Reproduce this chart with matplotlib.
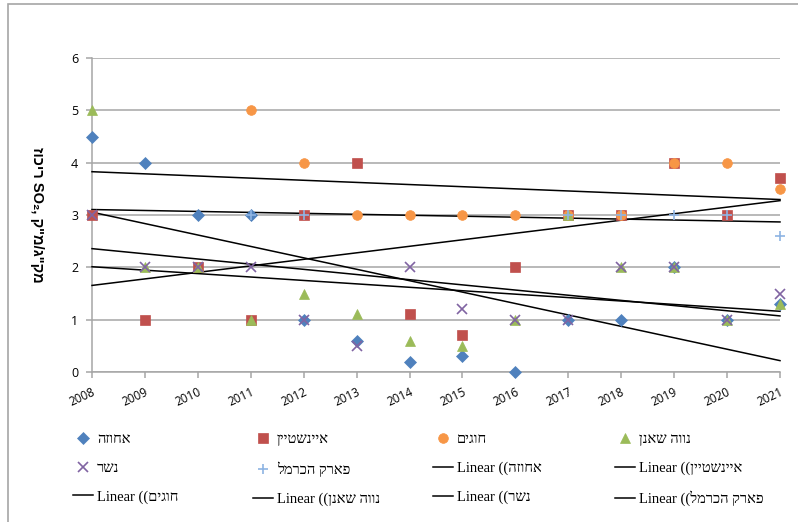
import numpy as np
import matplotlib
matplotlib.use('Agg')
from matplotlib import pyplot as plt
from matplotlib.patches import Rectangle

nan = np.nan

# שנים וריכוזי SO2 לפי תחנה
years = np.arange(2008, 2022)
achuza = [4.5, 4, 3, 3, 1, 0.6, 0.2, 0.3, 0, 1, 1, 2, 1, 1.3]
einstein = [3, 1, 2, 1, 3, 4, 1.1, 0.7, 2, 3, 3, 4, 3, 3.7]
chugim = [nan, nan, nan, 5, 4, 3, 3, 3, 3, 3, 3, 4, 4, 3.5]
neve_shaanan = [5, 2, 2, 1, 1.5, 1.1, 0.6, 0.5, 1, 3, 2, 2, 1, 1.3]
nesher = [3, 2, 2, 2, 1, 0.5, 2, 1.2, 1, 1, 2, 2, 1, 1.5]
park_carmel = [nan, nan, nan, 3, 3, nan, nan, nan, nan, 3, 3, 3, 3, 2.6]

names = ['אחוזה', 'איינשטיין', 'חוגים', 'נווה שאנן', 'נשר', 'פארק הכרמל']
series = [achuza, einstein, chugim, neve_shaanan, nesher, park_carmel]
y_label = ['ריכוז', 'SO₂,', 'מק"ג/מ"ק']

markers = ['D', 's', 'o', '^', 'x', '+']
sizes = [6, 6.5, 7, 7, 6.5, 7]
colors = ['#4F81BD', '#C0504D', '#F79646', '#9BBB59', '#8064A2', '#8EB4E3']


def rtl(s):
    # matplotlib לא מטפל בכיווניות - הופכים את סדר האותיות
    return s[::-1]


fig = plt.figure(figsize=(7.98, 5.22), dpi=100)
fig.patches.append(Rectangle((8 / 798, -0.1), 1.2, 0.1 + 1 - 4 / 522,
                             transform=fig.transFigure, fill=False,
                             edgecolor='#A6A6A6', lw=1.2))
ax = fig.add_axes([92 / 798, 150 / 522, 688 / 798, 314 / 522])

scatter_handles = []
trend_handles = []
for name, vals, m, ms, c in zip(names, series, markers, sizes, colors):
    vals = np.array(vals, dtype=float)
    ok = ~np.isnan(vals)
    mew = 1.2 if m in ('x', '+') else 0.5
    h, = ax.plot(years[ok], vals[ok], linestyle='none', marker=m, ms=ms,
                 color=c, mec=c, mew=mew, clip_on=False, zorder=4)
    scatter_handles.append(h)

# קווי מגמה ליניאריים
for name, vals in zip(names, series):
    vals = np.array(vals, dtype=float)
    ok = ~np.isnan(vals)
    k, b = np.polyfit(years[ok], vals[ok], 1)
    h, = ax.plot(years[[0, -1]], k * years[[0, -1]] + b, color='black',
                 lw=1.1, zorder=3, clip_on=False)
    trend_handles.append(h)

ax.set_xlim(2008, 2021)
ax.set_ylim(0, 6)
ax.set_xticks(years)
ax.set_xticklabels([str(y) for y in years], rotation=25, ha='right',
                   va='top', rotation_mode='anchor',
                   fontfamily='Open Sans', fontsize=8.5)
ax.set_yticks(range(0, 7))
ax.set_yticklabels([str(v) for v in range(0, 7)], fontfamily='Open Sans',
                   fontsize=9)
ax.yaxis.grid(True, color='#A6A6A6', lw=1.1)
ax.set_axisbelow(True)
for side in ('top', 'right'):
    ax.spines[side].set_visible(False)
for side in ('left', 'bottom'):
    ax.spines[side].set_color('#A6A6A6')
    ax.spines[side].set_linewidth(1.1)
ax.tick_params(axis='both', direction='out', length=4, color='#A6A6A6',
               width=1.1, pad=6)

fig.text(37 / 798, 1 - 215 / 522,
         rtl(y_label[0]) + ' ' + y_label[1] + ' ' + rtl(y_label[2]),
         rotation=270, ha='center', va='center', fontsize=10.5,
         fontweight='bold', family=['Liberation Sans', 'DejaVu Sans'])

# מקרא - ארבע עמודות, כל אחת כמקרא נפרד
entries = list(zip(scatter_handles, [rtl(n) for n in names]))
entries += list(zip(trend_handles, ['Linear ((' + rtl(n) for n in names]))
col_x = [73, 253, 433, 615]
for i, x in enumerate(col_x):
    col = entries[i::4]
    fig.legend([e[0] for e in col], [e[1] for e in col],
               loc='upper left', bbox_to_anchor=(x / 798, 1 - 433 / 522),
               frameon=False, borderpad=0, borderaxespad=0,
               handlelength=1.4, handletextpad=0.25, labelspacing=1.05,
               prop={'family': ['Liberation Serif', 'DejaVu Sans'],
                     'size': 10.5})

fig.savefig('out.png', dpi=100)
